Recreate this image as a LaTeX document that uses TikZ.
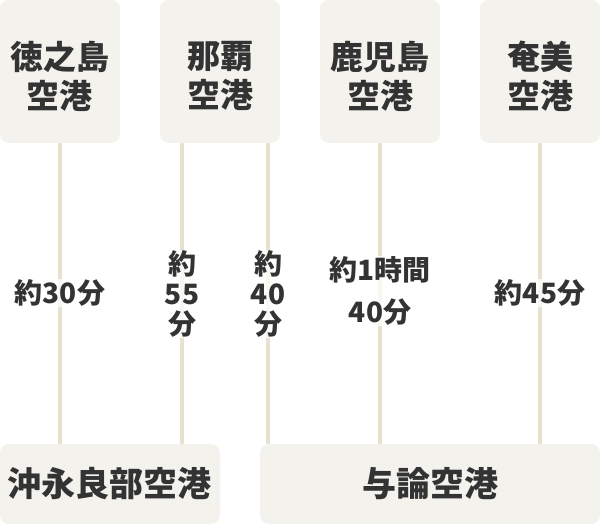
\documentclass[tikz,border=0pt]{standalone}
\usepackage{fontspec}
\setmainfont{Noto Sans CJK JP}
\definecolor{boxfill}{HTML}{F3F2ED}
\definecolor{linec}{HTML}{E6E2CF}
\definecolor{txt}{HTML}{333333}
\begin{document}
\begin{tikzpicture}[x=1pt,y=-1pt,
  apt/.style={fill=boxfill,draw=none,rounded corners=9pt,inner sep=0pt},
  aptt/.style={text=txt,font=\fontsize{33}{39}\selectfont\bfseries,align=center,inner sep=0pt},
  conn/.style={draw=linec,line width=4pt},
  tlabel/.style={fill=white,fill opacity=0.75,text opacity=1,text=txt,inner sep=1pt,align=center,font=\fontsize{28}{30}\selectfont\bfseries}]
\useasboundingbox (0,0) rectangle (600,524);
\node[apt,minimum width=120pt,minimum height=143pt] (tok) at (60,71.5) {};
\node[apt,minimum width=120pt,minimum height=143pt] (naha) at (220,71.5) {};
\node[apt,minimum width=120pt,minimum height=143pt] (kago) at (380,71.5) {};
\node[apt,minimum width=120pt,minimum height=143pt] (ama) at (540,71.5) {};
\node[apt,minimum width=220pt,minimum height=80pt] (oki) at (110,484) {};
\node[apt,minimum width=340pt,minimum height=80pt] (yor) at (430,484) {};
\node[aptt] (tokt) at (60,76) {徳之島\\空港};
\node[aptt] (nahat) at (220,76) {那覇\\空港};
\node[aptt] (kagot) at (380,76) {鹿児島\\空港};
\node[aptt] (amat) at (540,76) {奄美\\空港};
\node[aptt,font=\fontsize{34}{39}\selectfont\bfseries] (okit) at (110,484) {沖永良部空港};
\node[aptt,font=\fontsize{34}{39}\selectfont\bfseries] (yort) at (430,484) {与論空港};
\draw[conn] (tok.south) -- (tok.south |- oki.north);
\draw[conn] ([xshift=-38pt]naha.south) -- ([xshift=-38pt]naha.south |- oki.north);
\draw[conn] ([xshift=48pt]naha.south) -- ([xshift=48pt]naha.south |- yor.north);
\draw[conn] (kago.south) -- (kago.south |- yor.north);
\draw[conn] (ama.south) -- (ama.south |- yor.north);
\node[tlabel] (l1) at (60,293) {約30分};
\node[tlabel] (l2) at (182,294) {約\\55\\分};
\node[tlabel] (l3) at (268,294) {約\\40\\分};
\node[tlabel,font=\fontsize{28}{42}\selectfont\bfseries] (l4) at (380,291) {約1時間\\40分};
\node[tlabel] (l5) at (540,293) {約45分};
\end{tikzpicture}
\end{document}
